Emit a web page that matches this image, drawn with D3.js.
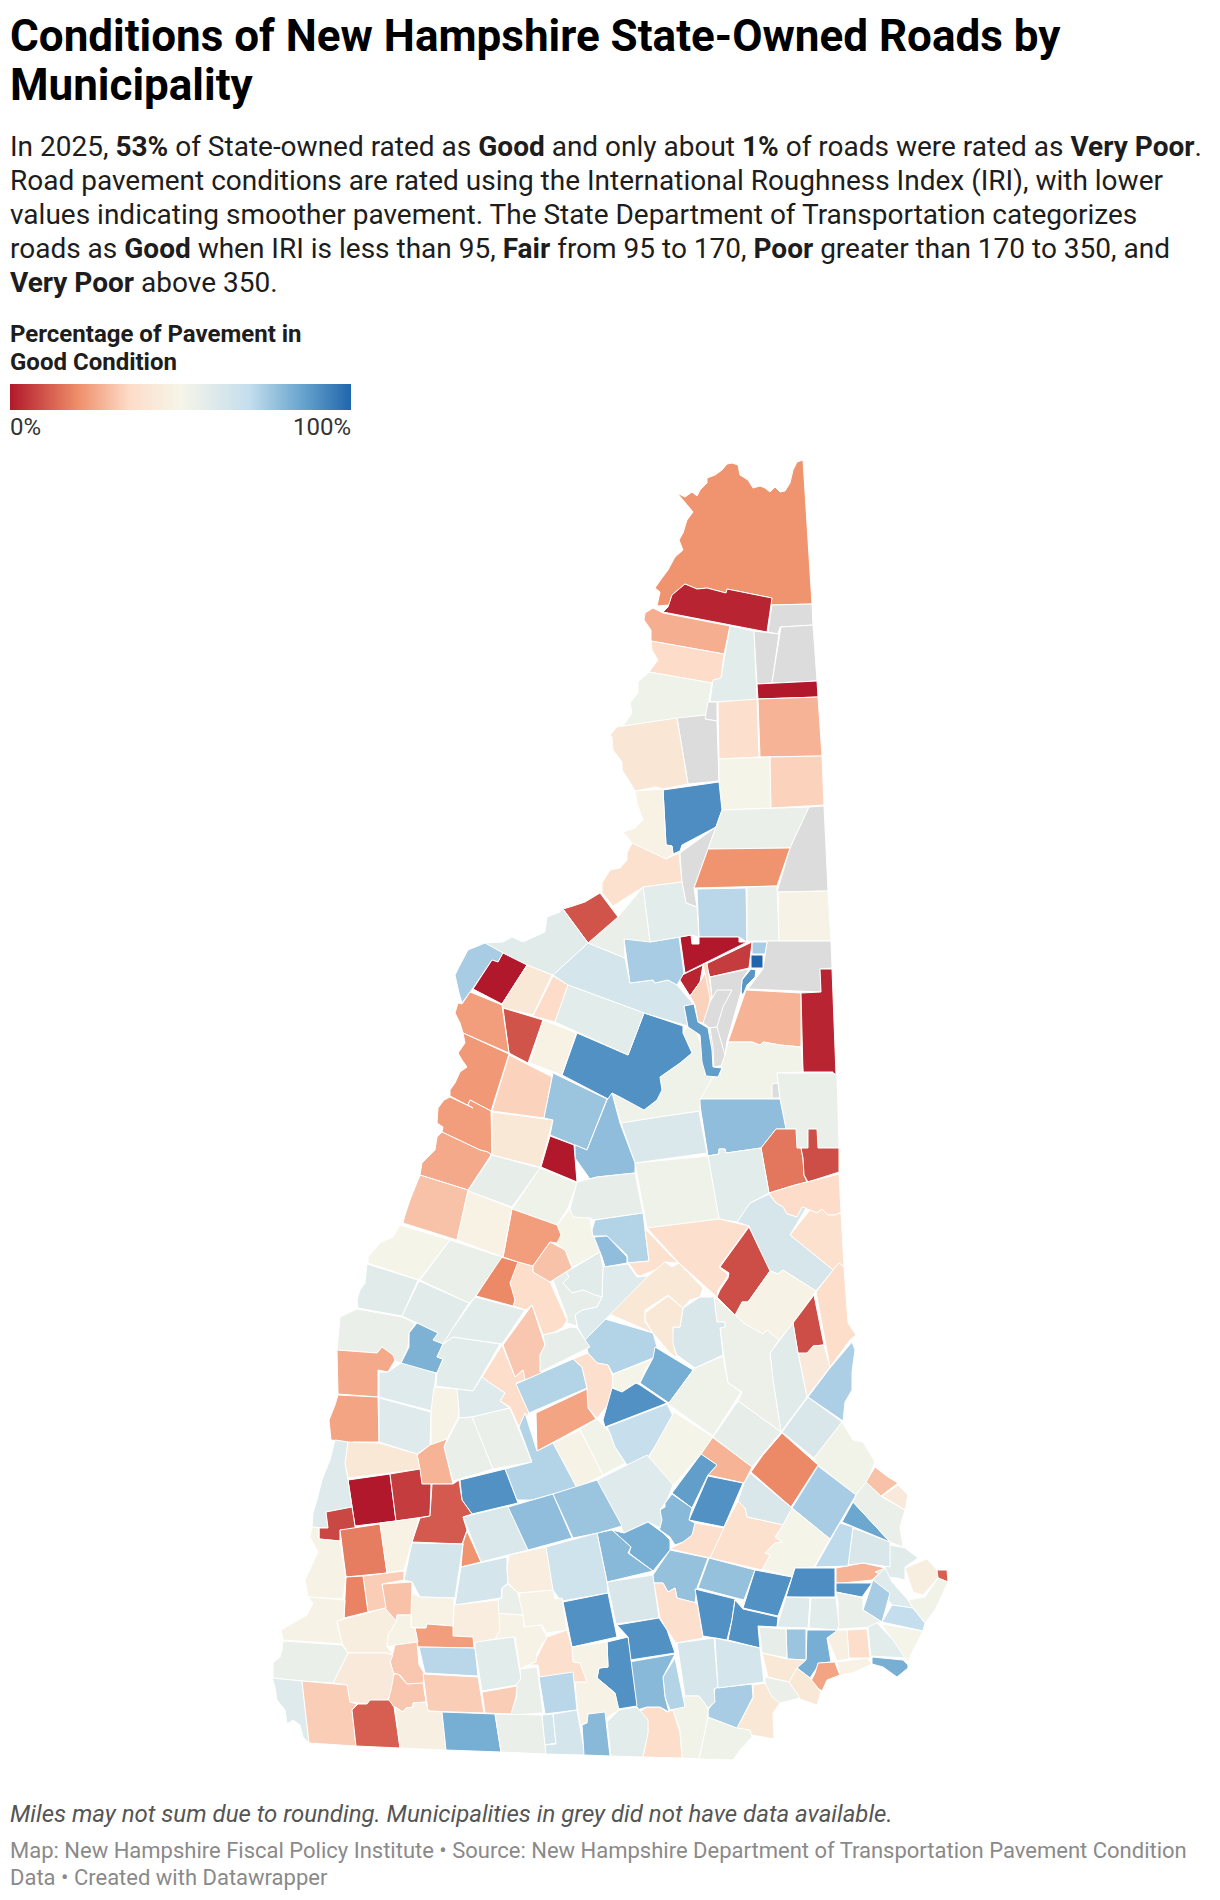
<!DOCTYPE html>
<html>
<head>
<meta charset="utf-8">
<title>Conditions of New Hampshire State-Owned Roads by Municipality</title>
<script src="https://cdn.jsdelivr.net/npm/d3@7"></script>
<style>
  body { margin: 0; background: #fff; }
  svg { display: block; font-family: Roboto, sans-serif; }
</style>
</head>
<body>
<svg width="1220" height="1900"></svg>
<script>
// text
var titleLines = ['Conditions of New Hampshire State-Owned Roads by', 'Municipality'];
var introLines = [
  'In 2025, <b>53%</b> of State-owned rated as <b>Good</b> and only about <b>1%</b> of roads were rated as <b>Very Poor</b>.',
  'Road pavement conditions are rated using the International Roughness Index (IRI), with lower',
  'values indicating smoother pavement. The State Department of Transportation categorizes',
  'roads as <b>Good</b> when IRI is less than 95, <b>Fair</b> from 95 to 170, <b>Poor</b> greater than 170 to 350, and',
  '<b>Very Poor</b> above 350.'
];
var legendTitle = ['Percentage of Pavement in', 'Good Condition'];
var legendTicks = ['0%', '100%'];
var noteLine = 'Miles may not sum due to rounding. Municipalities in grey did not have data available.';
var sourceLines = [
  'Map: New Hampshire Fiscal Policy Institute \u2022 Source: New Hampshire Department of Transportation Pavement Condition',
  'Data \u2022 Created with Datawrapper'
];

// colour ramp, % of pavement in good condition
var rampStops = [0, 20, 35, 50, 70, 85, 100];
var rampColors = ['#b2182b', '#ef8f6a', '#fddcc9', '#f6f5e8', '#c5deed', '#6ba7cf', '#2166ac'];

// town outlines traced from the map, in map units. values, null = no data
var northShapes = [
  '803,460 797,462 793,470 790,483 785,491 780,492 775,487 770,492 765,488 760,486 753,488 748,480 740,475 738,465 732,463 727,464 722,470 715,475 707,478 707,483 700,490 697,496 692,492 685,497 677,493 683,500 693,512 687,520 683,533 679,540 683,550 675,557 668,570 662,578 655,588 660,592 657,606 669,605 672,595 685,584 697,589 707,588 726,593 727,589 772,598 770,605 812,604',
  '772,598 767,632 663,612 668,607 672,595 685,584 697,589 707,588 726,593 727,589',
  '653,608 663,613 730,626 724,654 651,641 651,630 644,620 645,613',
  '651,641 724,654 721,678 712,683 649,672 658,660 652,650',
  '649,672 712,683 706,715 623,726 632,713 630,703 638,693 638,682',
  '730,626 754,631 757,700 710,702 713,680 721,678',
  '772,605 812,604 813,625 780,627 778,634 768,632',
  '754,631 779,634 772,683 757,684',
  '781,627 813,625 817,681 772,683',
  '757,684 817,681 818,697 758,699',
  '708,702 717,702 717,721 705,719',
  '718,702 757,699 759,757 719,759',
  '758,699 818,697 822,756 760,757',
  '677,718 706,715 705,719 717,721 719,781 688,784',
  '617,727 677,718 688,784 663,789 656,787 635,791 628,779 622,770 622,762 613,750 612,737 610,735',
  '719,759 770,757 771,808 722,810 719,781',
  '770,757 822,756 824,805 771,808',
  '663,790 719,782 722,810 716,827 682,845 680,851 673,854 672,846 666,845',
  '635,791 663,789 666,845 672,846 673,854 666,859 632,843 623,832 635,828 643,820 637,803',
  '632,843 666,859 679,853 682,882 643,887 613,906 602,893 602,883 607,875 610,870 620,868 627,860 627,853',
  '680,853 716,827 708,849 694,888 697,907 686,903 682,882',
  '722,810 809,807 790,848 708,849 716,827',
  '809,807 824,806 828,891 777,892 790,848',
  '708,849 790,848 777,886 694,888'
];
var northValues = [21, 2, 26, 35, 53, 58, null, null, null, 0, null, 37, 27, null, 41, 51, 33, 91, 48, 38, null, 55, null, 21];

var lakesShapes = [
  '697,889 746,888 747,942 739,937 699,937',
  '747,887 777,886 779,941 747,941',
  '778,892 828,891 831,941 779,941',
  '767,941 831,941 832,968 820,969 821,992 748,989 757,977 763,969',
  '752,942 767,942 765,954 752,954',
  '751,955 763,955 763,968 751,968',
  '751,969 756,970 755,977 747,985 743,995 741,992 742,980',
  '752,942 749,968 710,977 706,964',
  '680,937 691,935 692,944 699,944 699,937 739,937 739,942 747,942 685,973',
  '703,965 700,982 690,996 678,977',
  '703,964 707,963 712,997 709,997',
  '690,996 700,982 705,973 710,998 707,1017 703,1023 698,1022 695,1005',
  '710,977 749,969 742,980 741,992 727,1041 725,1055 722,1063 714,1067 712,1060 709,1027 703,1023 707,1017 712,997',
  '732,990 717,990 710,1002 705,1017 703,1023 710,1028 717,1027 723,1007',
  '710,1028 717,1027 725,1055 724,1065 714,1067 713,1047',
  '746,990 801,993 801,1047 780,1045 763,1042 760,1045 752,1042 728,1042',
  '820,969 832,969 836,1075 833,1075 833,1072 803,1072 801,993 821,992',
  '728,1042 752,1042 760,1045 763,1042 780,1045 801,1047 803,1072 777,1073 781,1099 700,1099 712,1078 720,1075 722,1063 725,1055',
  '772,1084 778,1083 780,1098 772,1098',
  '777,1073 833,1073 837,1075 839,1148 818,1148 817,1129 808,1129 808,1148 796,1148 796,1129 786,1129 780,1099',
  '699,1099 780,1099 786,1129 776,1129 761,1148 726,1153 725,1149 719,1149 719,1154 708,1156',
  '776,1129 796,1129 797,1148 801,1148 803,1158 804,1175 807,1182 795,1185 769,1193 761,1148',
  '808,1129 817,1129 818,1148 839,1148 839,1172 808,1182 804,1175 803,1158 801,1148 808,1148',
  '769,1193 795,1185 807,1182 839,1174 841,1212 835,1215 828,1215 822,1209 817,1213 810,1210 802,1207 802,1217 797,1217 787,1214 783,1207 776,1203',
  '810,1210 817,1213 822,1209 828,1215 835,1215 841,1213 844,1267 839,1263 833,1270 790,1235',
  '769,1194 776,1203 783,1207 787,1214 797,1217 802,1207 806,1208 790,1235 833,1270 816,1291 794,1277 783,1270 778,1274 769,1270 749,1226 737,1222 750,1203',
  '708,1156 719,1154 719,1149 725,1149 726,1153 761,1148 769,1193 750,1203 737,1222 719,1219',
  '635,1163 708,1156 719,1219 647,1228',
  '621,1123 658,1117 699,1111 707,1153 635,1163'
];
var lakesValues = [72, 55, 49, null, 75, 100, 89, 6, 0, 2, 35, 33, null, null, null, 27, 2, 52, null, 55, 79, 16, 9, 35, 38, 63, 58, 53, 61];

var graftonShapes = [
  '612,1093 620,1097 644,1110 657,1100 662,1090 660,1077 680,1063 692,1053 683,1033 687,1027 697,1033 703,1050 705,1075 713,1077 700,1100 700,1111 658,1117 621,1123',
  '577,1033 628,1055 644,1013 683,1026 683,1033 692,1053 680,1063 660,1077 662,1090 657,1100 644,1110 620,1097 612,1093 610,1100 562,1075',
  '588,943 625,958 630,983 653,980 655,983 668,980 677,985 694,1005 684,1006 688,1026 644,1013 568,985 553,975',
  '684,1006 694,1004 698,1022 708,1028 712,1050 713,1067 722,1068 718,1077 706,1076 702,1062 700,1035 688,1027',
  '624,939 648,935 650,942 679,937 684,973 677,985 668,980 655,983 653,980 630,983',
  '643,887 682,882 686,903 697,907 699,937 691,935 680,937 650,942',
  '618,917 643,887 650,942 624,939 625,958 588,943',
  '563,909 573,906 585,902 600,893 618,917 588,943',
  '485,943 503,942 512,937 523,942 545,932 547,917 560,912 563,909 588,943 553,975 527,965 503,953',
  '485,943 503,953 498,962 492,960 473,988 462,1003 459,993 455,975 460,965 468,950',
  '503,953 527,965 502,1004 473,989 492,960 498,962',
  '527,965 552,975 533,1015 503,1008 502,1004',
  '553,976 568,985 555,1022 533,1016',
  '568,985 644,1013 628,1055 555,1022',
  '503,1008 543,1020 528,1063 509,1053',
  '543,1020 576,1033 562,1075 530,1063',
  '470,992 502,1005 509,1053 463,1033 460,1023 455,1013 458,1003 462,1004',
  '463,1033 509,1054 491,1111 470,1100 468,1105 473,1108 450,1096 450,1090 455,1083 460,1072 467,1067 462,1060 458,1053 465,1043',
  '450,1097 473,1108 468,1105 470,1100 491,1111 492,1155 488,1152 480,1150 442,1132 443,1127 437,1123 438,1108 444,1100',
  '442,1132 480,1150 488,1152 491,1155 468,1190 420,1175 422,1163 435,1150 437,1137',
  '509,1055 552,1077 544,1118 492,1111',
  '492,1112 553,1120 540,1167 492,1155',
  '553,1073 607,1099 587,1150 550,1135 553,1120 544,1118',
  '607,1100 612,1093 620,1123 635,1163 635,1173 597,1177 590,1179 575,1158 575,1145 587,1150',
  '550,1136 574,1145 577,1182 541,1167',
  '492,1155 540,1168 512,1207 468,1191',
  '540,1168 577,1183 568,1208 557,1225 512,1209',
  '570,1209 573,1217 590,1218 592,1233 600,1252 573,1267 565,1250 553,1242 561,1235 557,1225',
  '577,1182 597,1177 635,1173 643,1213 593,1220 590,1218 573,1217 570,1209',
  '643,1213 649,1261 628,1263 627,1255 607,1236 593,1236 592,1230 595,1220',
  '594,1237 607,1236 627,1257 627,1263 605,1267 602,1257'
];
var graftonValues = [53, 90, 64, 87, 75, 58, 55, 10, 59, 75, 0, 42, 35, 58, 10, 48, 23, 22, 23, 25, 33, 42, 77, 79, 0, 56, 53, 51, 56, 73, 79];

var belknapShapes = [
  '645,1229 678,1263 665,1262 660,1268 640,1276 637,1275 630,1265 628,1263 649,1261',
  '647,1228 719,1219 749,1226 719,1267 728,1275 723,1283 718,1290 717,1297 679,1263',
  '749,1227 770,1271 748,1302 742,1302 740,1312 735,1315 717,1297 720,1290 728,1278 729,1273 720,1267',
  '770,1271 778,1274 783,1270 794,1277 816,1291 793,1323 779,1340 767,1330 763,1334 745,1324 735,1315 742,1302 748,1302',
  '814,1295 824,1345 813,1346 808,1354 798,1354 793,1323',
  '816,1292 833,1270 839,1263 844,1267 848,1323 856,1335 850,1340 830,1367',
  '798,1353 807,1353 813,1346 824,1345 830,1367 807,1397',
  '770,1353 793,1323 798,1353 807,1397 781,1432 773,1380',
  '714,1297 735,1315 745,1324 763,1334 767,1330 779,1340 770,1353 773,1380 781,1432 738,1401 742,1392 728,1383 723,1350 720,1328 725,1327 725,1322 717,1322',
  '683,1308 700,1297 714,1297 717,1322 725,1322 725,1327 720,1328 723,1355 695,1368 677,1355 672,1343 673,1327 680,1327',
  '607,1313 648,1276 665,1262 672,1267 679,1263 703,1288 700,1297 690,1300 683,1308 668,1295 645,1310 645,1322 653,1333',
  '645,1313 668,1296 683,1308 680,1327 673,1327 673,1343 677,1358 670,1353 653,1333 645,1320',
  '585,1340 605,1319 653,1333 657,1347 653,1358 613,1374 608,1365 597,1363 588,1353',
  '603,1267 628,1264 637,1277 648,1276 585,1340 578,1328 575,1315 582,1310 597,1307 602,1297',
  '553,1280 600,1252 603,1267 602,1297 595,1295 583,1290 572,1293 563,1283 569,1277 566,1272',
  '553,1280 566,1272 569,1277 563,1283 572,1293 583,1290 595,1295 602,1297 597,1307 582,1310 575,1315 577,1326 567,1323 567,1317',
  '512,1263 518,1262 533,1266 533,1272 550,1282 567,1320 563,1327 555,1332 543,1335 532,1305 526,1310 513,1306 515,1300 510,1283',
  '501,1257 518,1262 510,1283 515,1300 513,1306 476,1296',
  '512,1209 557,1225 561,1235 557,1243 550,1242 533,1266 518,1262 503,1257',
  '550,1242 565,1250 572,1268 550,1282 533,1272 533,1266'
];
var belknapValues = [38, 37, 9, 49, 9, 36, 43, 59, 54, 62, 42, 42, 73, 60, 59, 56, 36, 19, 23, 30];

var sullivanShapes = [
  '420,1175 468,1190 457,1240 403,1223 405,1215 410,1200',
  '468,1191 512,1208 503,1257 457,1240',
  '400,1225 450,1240 419,1280 368,1263 368,1257 380,1243 393,1237',
  '450,1240 502,1257 475,1297 469,1303 420,1280',
  '367,1264 418,1280 402,1316 358,1308 357,1300 360,1290 365,1283',
  '419,1281 469,1303 453,1328 443,1344 433,1340 438,1333 417,1323 402,1316',
  '417,1323 438,1333 433,1340 443,1344 437,1357 443,1359 437,1373 427,1371 423,1373 401,1363 409,1347 409,1333',
  '340,1317 357,1309 402,1317 415,1323 409,1333 408,1347 401,1363 393,1360 382,1347 377,1353 337,1350',
  '337,1350 377,1353 382,1347 393,1355 395,1360 388,1372 378,1370 378,1397 338,1394',
  '338,1395 378,1397 379,1442 353,1442 351,1447 348,1442 331,1440 329,1420 335,1405',
  '379,1372 388,1372 401,1363 436,1373 432,1411 379,1397',
  '379,1398 431,1412 430,1445 417,1454 379,1442',
  '434,1387 457,1389 459,1410 458,1418 447,1439 431,1445 431,1411',
  '437,1373 443,1359 437,1357 443,1344 453,1337 500,1344 473,1391 436,1386',
  '453,1328 475,1297 525,1310 502,1344 453,1337 443,1344',
  '532,1305 545,1345 540,1355 542,1373 525,1380 523,1370 515,1377 503,1345',
  '502,1345 515,1377 523,1370 525,1380 516,1383 529,1413 519,1427 510,1407 500,1401 505,1393 490,1383 482,1377',
  '457,1389 473,1391 482,1377 490,1383 505,1393 500,1401 510,1408 472,1417 459,1418 459,1410',
  '543,1335 557,1332 570,1327 577,1328 590,1347 540,1372 540,1355 545,1345',
  '516,1384 573,1359 582,1367 587,1388 529,1413',
  '573,1359 588,1353 597,1363 608,1365 613,1377 612,1400 597,1418 587,1407 587,1388 582,1367',
  '613,1374 653,1359 645,1370 640,1383 635,1383 622,1392 612,1387',
  '612,1388 622,1392 636,1383 640,1385 667,1403 605,1427 603,1420',
  '655,1347 693,1370 669,1403 640,1383 645,1373 653,1358',
  '536,1413 587,1389 588,1408 596,1419 537,1451',
  '553,1443 580,1430 603,1475 577,1488',
  '580,1429 597,1419 605,1427 610,1433 615,1447 625,1463 603,1475',
  '607,1427 667,1404 674,1418 648,1457 627,1465 615,1447 610,1433',
  '459,1418 472,1417 493,1469 453,1481 444,1447',
  '472,1417 510,1408 532,1462 493,1469',
  '417,1455 430,1445 447,1439 444,1447 453,1484 422,1484',
  '348,1442 379,1443 417,1454 420,1469 390,1473 348,1478 345,1463'
];
var sullivanValues = [30, 48, 51, 55, 59, 59, 82, 55, 25, 24, 60, 60, 49, 58, 58, 31, 36, 60, 56, 73, 37, 51, 90, 83, 24, 49, 52, 69, 55, 55, 27, 42];

var merrimackShapes = [
  '695,1368 723,1356 728,1383 741,1392 713,1436 668,1404',
  '738,1401 781,1432 752,1467 713,1437',
  '808,1397 842,1422 814,1458 782,1432',
  '852,1342 855,1350 852,1372 852,1390 845,1402 843,1421 808,1397 830,1368',
  '842,1422 853,1440 863,1442 875,1462 867,1482 856,1495 818,1465 814,1458',
  '818,1466 856,1495 830,1539 792,1508',
  '782,1433 818,1465 791,1507 751,1472 763,1455',
  '712,1437 752,1467 744,1483 708,1475 717,1465 701,1454',
  '701,1454 717,1465 708,1475 692,1508 672,1493',
  '708,1476 743,1483 724,1527 689,1520',
  '750,1473 792,1508 783,1525 747,1517 745,1508 738,1501 744,1483',
  '792,1508 830,1539 814,1567 795,1568 792,1577 762,1569 770,1555 765,1553 775,1543 782,1542 775,1537 783,1525',
  '738,1501 745,1508 747,1517 783,1525 775,1537 782,1542 775,1543 765,1553 770,1555 762,1570 710,1558 724,1527',
  '689,1522 724,1528 710,1558 670,1549 683,1542 692,1535',
  '672,1494 692,1508 689,1520 695,1523 692,1535 683,1542 675,1545 670,1537 660,1530 658,1522 660,1510 665,1507 665,1503',
  '674,1412 713,1437 701,1454 672,1487 655,1473 649,1457',
  '597,1480 647,1455 673,1485 667,1500 660,1510 662,1520 660,1528 648,1522 624,1533',
  '612,1530 624,1533 648,1522 663,1533 670,1540 670,1550 653,1571 629,1553 631,1547',
  '597,1533 612,1530 631,1547 628,1553 653,1571 607,1582'
];
var merrimackValues = [53, 56, 62, 74, 52, 75, 19, 27, 87, 90, 62, 51, 38, 37, 80, 51, 60, 83, 80];

var cheshireShapes = [
  '505,1469 532,1462 519,1427 525,1413 537,1451 553,1443 577,1488 553,1494 532,1500 517,1500',
  '460,1480 505,1469 518,1503 472,1514 462,1500',
  '348,1480 390,1474 396,1521 355,1526',
  '390,1474 420,1469 422,1484 431,1484 430,1516 396,1521',
  '432,1484 453,1484 459,1480 462,1500 472,1514 463,1517 467,1530 462,1544 412,1542 420,1518 430,1516',
  '335,1440 348,1442 345,1463 348,1480 352,1507 326,1512 328,1528 312,1527 313,1513 317,1500 322,1480 330,1460',
  '326,1512 352,1507 355,1526 355,1529 340,1530 340,1541 319,1539 319,1528 328,1528',
  '340,1530 380,1524 387,1573 346,1577',
  '380,1523 419,1518 412,1542 404,1570 387,1573',
  '467,1531 481,1562 461,1567 463,1543',
  '463,1517 508,1506 528,1550 481,1562',
  '508,1507 553,1494 572,1538 528,1550',
  '553,1494 597,1480 622,1526 598,1533 573,1538',
  '412,1543 463,1544 455,1598 420,1597 412,1582 404,1580',
  '461,1567 507,1557 507,1570 508,1583 502,1588 501,1598 455,1605',
  '509,1555 546,1547 553,1590 518,1593 508,1583 507,1568',
  '546,1547 597,1533 607,1582 608,1593 562,1601 558,1597 553,1590',
  '563,1602 608,1593 617,1637 572,1647',
  '607,1582 653,1575 659,1618 616,1624',
  '653,1575 670,1550 708,1558 697,1588 695,1603 677,1598 675,1588 668,1592 663,1583 654,1583',
  '709,1558 755,1570 744,1600 698,1588',
  '755,1570 792,1577 778,1616 743,1608',
  '654,1583 663,1583 668,1592 675,1588 677,1598 697,1603 703,1638 676,1643 667,1630 660,1618',
  '617,1625 659,1618 667,1630 675,1653 630,1660 628,1637',
  '695,1589 735,1599 732,1620 727,1640 703,1636',
  '735,1600 743,1609 778,1617 777,1627 758,1626 760,1648 728,1640 732,1620',
  '795,1568 835,1568 835,1597 786,1597',
  '836,1568 863,1563 885,1568 872,1580 843,1583 836,1583',
  '836,1583 872,1583 862,1597 836,1592'
];
var cheshireValues = [73, 90, 0, 6, 11, 60, 8, 17, 48, 21, 61, 79, 77, 64, 64, 45, 66, 90, 62, 78, 78, 90, 37, 90, 90, 90, 91, 27, 89];

var seacoastShapes = [
  '935,1570 947,1570 948,1582 938,1578',
  '905,1568 927,1559 937,1570 938,1578 923,1595 913,1592',
  '875,1572 885,1568 890,1545 905,1548 918,1558 905,1567 905,1580 897,1578 888,1577',
  '848,1565 853,1528 890,1542 890,1567 863,1563',
  '815,1567 840,1523 853,1527 848,1566',
  '842,1522 853,1502 890,1542',
  '856,1495 866,1482 882,1497 905,1510 900,1527 903,1547 890,1542 853,1502',
  '875,1467 888,1477 898,1483 881,1496 866,1482',
  '882,1496 898,1485 908,1495 905,1510',
  '873,1580 885,1568 892,1582 908,1600 913,1608 892,1605',
  '873,1580 890,1593 882,1622 863,1610',
  '836,1592 863,1598 863,1610 882,1622 873,1627 838,1629 838,1603',
  '892,1605 913,1608 925,1623 923,1631 882,1622',
  '908,1600 925,1597 938,1578 948,1582 935,1610 925,1623 913,1608',
  '877,1623 923,1631 913,1650 908,1663 905,1658 880,1622',
  '868,1627 877,1623 893,1640 905,1658 871,1656',
  '872,1657 903,1660 908,1665 908,1668 897,1677 883,1667 872,1664',
  '847,1630 867,1629 870,1658 849,1658',
  '827,1638 838,1630 847,1630 849,1659 837,1661',
  '807,1630 838,1630 827,1638 831,1662 820,1663 810,1678 797,1668 806,1659',
  '786,1629 806,1629 806,1660 787,1659',
  '759,1627 786,1629 787,1658 762,1653',
  '786,1597 810,1598 808,1628 777,1627',
  '811,1598 836,1598 839,1625 837,1630 809,1628',
  '818,1663 835,1662 837,1668 840,1675 827,1680 822,1691 810,1683 815,1673',
  '837,1662 867,1658 872,1664 852,1673 840,1675',
  '762,1653 787,1659 806,1660 797,1668 789,1682 768,1677',
  '797,1668 810,1678 821,1692 817,1705 800,1699 789,1682',
  '765,1677 789,1682 800,1698 780,1703 773,1708 772,1697 765,1685',
  '753,1685 765,1683 772,1697 780,1703 773,1713 774,1739 752,1735 737,1728 753,1698',
  '708,1717 737,1728 750,1730 752,1737 740,1750 733,1760 699,1759',
  '715,1688 752,1684 753,1697 737,1728 708,1717 708,1710 713,1703',
  '677,1643 714,1638 718,1687 714,1689 715,1702 708,1708 699,1696 685,1696',
  '715,1638 760,1648 764,1682 718,1688',
  '673,1710 685,1696 699,1696 708,1708 708,1717 699,1759 682,1758 680,1730',
  '636,1714 647,1707 660,1707 667,1712 673,1710 680,1733 682,1758 643,1757 648,1730',
  '675,1658 685,1707 670,1710 665,1697 663,1677',
  '629,1662 675,1654 663,1677 665,1697 669,1712 660,1707 647,1707 637,1710',
  '607,1642 628,1637 637,1706 618,1709 615,1693 603,1683 597,1678 599,1668 608,1667'
];
var seacoastValues = [12, 46, 59, 62, 71, 85, 55, 30, 43, 60, 75, 55, 70, 52, 51, 58, 83, 36, 47, 83, 77, 56, 60, 58, 24, 48, 42, 42, 55, 42, 53, 75, 63, 64, 52, 36, 73, 80, 90];

var hillsShapes = [
  '572,1647 607,1642 608,1667 599,1668 597,1678 603,1683 615,1693 619,1710 608,1717 607,1722 588,1713 587,1723 580,1725 577,1707 575,1682 587,1682 580,1663 573,1662',
  '537,1657 547,1637 567,1630 572,1647 573,1662 580,1663 587,1682 575,1682 540,1677 538,1665 528,1665',
  '520,1593 553,1590 555,1599 562,1598 567,1630 547,1633 543,1627 542,1625 525,1627 522,1613 519,1608',
  '495,1613 523,1615 524,1627 542,1625 543,1630 547,1637 537,1653 536,1662 528,1665 520,1669 515,1637 496,1639',
  '508,1584 518,1593 523,1615 495,1613 497,1600 502,1598 502,1588',
  '454,1605 498,1600 500,1630 495,1639 473,1643 473,1637 453,1636',
  '412,1593 420,1597 454,1598 453,1626 427,1624 426,1628 411,1627',
  '415,1628 426,1628 427,1624 453,1626 453,1636 473,1637 474,1648 418,1647',
  '382,1584 412,1582 411,1615 397,1615 396,1622 386,1617',
  '363,1576 404,1571 404,1580 382,1584 386,1608 368,1612',
  '346,1577 363,1576 368,1612 344,1618',
  '312,1527 319,1528 319,1539 340,1541 346,1577 343,1599 308,1597 305,1580 318,1552 310,1537',
  '308,1597 345,1600 344,1618 337,1622 342,1644 283,1640 281,1630 293,1623 307,1615 313,1603',
  '337,1621 385,1608 397,1622 388,1635 387,1647 393,1654 385,1653 348,1653 342,1643',
  '397,1615 411,1615 411,1627 415,1628 418,1642 395,1645 387,1647 388,1635 396,1622',
  '395,1645 417,1642 419,1665 424,1673 423,1685 407,1684 400,1675 393,1673 390,1660 393,1653',
  '419,1647 475,1648 478,1676 425,1673',
  '475,1642 514,1637 521,1679 517,1685 482,1691 475,1648',
  '520,1669 537,1667 543,1713 510,1715 517,1697 516,1685 521,1679',
  '539,1677 573,1672 577,1710 545,1714',
  '482,1692 517,1686 516,1697 511,1714 485,1713',
  '423,1674 478,1677 484,1713 428,1711',
  '394,1674 398,1674 407,1684 423,1683 426,1702 413,1703 413,1707 406,1708 403,1712 395,1707 388,1705 390,1687',
  '348,1653 385,1653 393,1655 390,1662 394,1674 391,1690 388,1700 370,1700 367,1704 350,1702 347,1685 333,1683',
  '283,1641 342,1645 348,1653 333,1683 302,1681 273,1678 273,1663 280,1657 282,1650',
  '272,1678 302,1681 309,1743 303,1737 300,1725 293,1720 287,1724 285,1710 277,1700 275,1687',
  '302,1681 347,1685 350,1702 357,1704 352,1710 356,1746 309,1743',
  '352,1710 358,1704 367,1704 370,1700 389,1700 394,1707 400,1748 356,1746',
  '395,1707 403,1712 406,1708 413,1707 413,1703 426,1702 428,1711 442,1712 446,1750 400,1748',
  '442,1712 495,1714 501,1752 446,1750',
  '495,1714 542,1715 546,1754 501,1752',
  '542,1715 553,1714 556,1743 545,1745',
  '553,1714 577,1710 585,1755 546,1754 545,1745 556,1744',
  '582,1725 587,1723 588,1714 605,1712 610,1756 584,1755',
  '607,1722 619,1710 637,1707 648,1720 648,1733 643,1757 611,1756'
];
var hillsValues = [49, 37, 49, 49, 55, 45, 48, 23, 30, 32, 18, 49, 49, 46, 49, 31, 72, 58, 55, 72, 32, 32, 31, 43, 55, 60, 32, 12, 47, 83, 55, 64, 64, 80, 58];

var regions = [
  [northShapes, northValues], [lakesShapes, lakesValues], [graftonShapes, graftonValues],
  [belknapShapes, belknapValues], [sullivanShapes, sullivanValues], [merrimackShapes, merrimackValues],
  [cheshireShapes, cheshireValues], [seacoastShapes, seacoastValues], [hillsShapes, hillsValues]
];

var svg = d3.select('svg');
var colorScale = d3.scaleLinear().domain(rampStops).range(rampColors);

// build the towns as geojson and let d3 draw them
var towns = [];
regions.forEach(function(r){
  r[0].forEach(function(s, i){
    var ring = s.split(' ').map(function(p){ return p.split(',').map(Number); });
    ring.push(ring[0]);
    towns.push({type: 'Feature', properties: {value: r[1][i]}, geometry: {type: 'Polygon', coordinates: [ring]}});
  });
});

var path = d3.geoPath(d3.geoIdentity());

svg.append('g')
    .attr('class', 'towns')
  .selectAll('path')
  .data(towns)
  .join('path')
    .attr('d', path)
    .attr('fill', function(d){ return d.properties.value === null ? '#dcdcdc' : colorScale(d.properties.value); })
    .attr('stroke', '#fff')
    .attr('stroke-width', 1)
    .attr('stroke-linejoin', 'round');

// headline block
svg.selectAll('.title')
  .data(titleLines)
  .join('text')
    .attr('class', 'title')
    .attr('x', 10)
    .attr('y', function(d, i){ return 51 + i * 49; })
    .attr('font-size', 44)
    .attr('font-weight', 700)
    .attr('fill', '#000')
    .text(function(d){ return d; });

svg.selectAll('.intro')
  .data(introLines)
  .join('text')
    .attr('class', 'intro')
    .attr('x', 10)
    .attr('y', function(d, i){ return 156 + i * 34; })
    .attr('font-size', 28)
    .attr('fill', '#1d1d1d')
    .html(function(d){ return d.replace(/<b>/g, '<tspan font-weight="700">').replace(/<\/b>/g, '</tspan>'); });

// legend
var legendScale = d3.scaleLinear().domain([0, 100]).range([10, 351]);

var grad = svg.append('defs').append('linearGradient')
    .attr('id', 'ramp');
grad.selectAll('stop')
  .data(rampStops)
  .join('stop')
    .attr('offset', function(d){ return d + '%'; })
    .attr('stop-color', function(d){ return colorScale(d); });

svg.selectAll('.legend-title')
  .data(legendTitle)
  .join('text')
    .attr('class', 'legend-title')
    .attr('x', 10)
    .attr('y', function(d, i){ return 342 + i * 28; })
    .attr('font-size', 24)
    .attr('font-weight', 700)
    .attr('fill', '#1d1d1d')
    .text(function(d){ return d; });

svg.append('rect')
    .attr('x', legendScale(0))
    .attr('y', 384)
    .attr('width', legendScale(100) - legendScale(0))
    .attr('height', 26)
    .attr('fill', 'url(#ramp)');

svg.selectAll('.legend-tick')
  .data(legendTicks)
  .join('text')
    .attr('class', 'legend-tick')
    .attr('x', function(d, i){ return legendScale(i * 100); })
    .attr('y', 435)
    .attr('text-anchor', function(d, i){ return i ? 'end' : 'start'; })
    .attr('font-size', 24)
    .attr('fill', '#333')
    .text(function(d){ return d; });

// notes
svg.append('text')
    .attr('x', 10)
    .attr('y', 1833)
    .attr('dy', -11)
    .attr('font-size', 24)
    .attr('font-style', 'italic')
    .attr('fill', '#555')
    .text(noteLine);

svg.selectAll('.source')
  .data(sourceLines)
  .join('text')
    .attr('class', 'source')
    .attr('x', 10)
    .attr('y', function(d, i){ return 1858 + i * 27; })
    .attr('font-size', 22)
    .attr('fill', '#8a8a8a')
    .text(function(d){ return d; });
</script>
</body>
</html>
